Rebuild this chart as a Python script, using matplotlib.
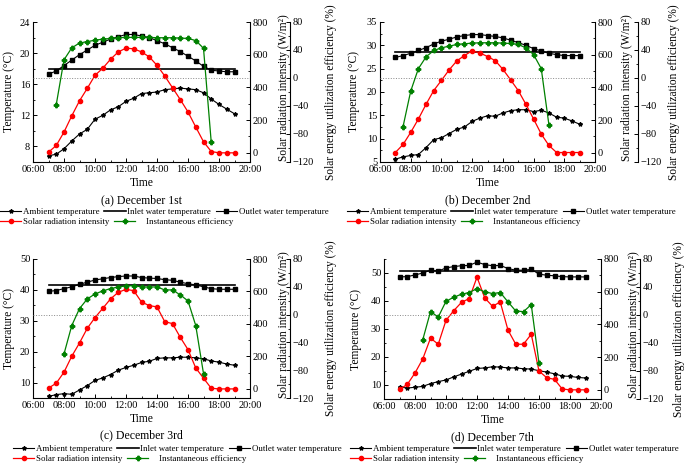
import matplotlib
matplotlib.use('Agg')
import matplotlib.pyplot as plt
from matplotlib.ticker import MultipleLocator, FixedLocator

plt.rcParams['font.family'] = ['Liberation Serif', 'DejaVu Serif']
plt.rcParams['font.size'] = 7.5
plt.rcParams['xtick.direction'] = 'in'
plt.rcParams['ytick.direction'] = 'in'
plt.rcParams['axes.linewidth'] = 0.8

# sampling times (every 30 min)
times = ['07:00', '07:30', '08:00', '08:30', '09:00', '09:30', '10:00', '10:30',
         '11:00', '11:30', '12:00', '12:30', '13:00', '13:30', '14:00', '14:30',
         '15:00', '15:30', '16:00', '16:30', '17:00', '17:30', '18:00', '18:30', '19:00']
xtick_labels = ['06:00', '08:00', '10:00', '12:00', '14:00', '16:00', '18:00', '20:00']

# (a) December 1st
amb_a = [6.8, 7.0, 7.7, 8.7, 9.6, 10.2, 11.5, 12.0, 12.7, 13.1, 13.8, 14.2, 14.8,
         14.9, 15.0, 15.3, 15.4, 15.5, 15.4, 15.3, 14.9, 14.1, 13.4, 12.8, 12.2]
out_a = [17.3, 17.7, 18.4, 19.1, 19.8, 20.4, 21.0, 21.4, 21.8, 22.1, 22.4, 22.4, 22.2,
         22.0, 21.6, 21.2, 20.7, 20.2, 19.6, 19.0, 18.3, 17.8, 17.7, 17.6, 17.6]
inlet_a = 17.9
sol_a = [4, 45, 127, 226, 318, 394, 474, 517, 572, 617, 640, 636, 617,
         587, 535, 470, 398, 326, 250, 158, 68, 8, 0, 0, 0]
eff_start_a = '07:30'
eff_a = [-38, 26, 43, 50, 52, 54, 55.5, 56.5, 57.5, 58, 58, 58, 58, 57.5, 57.5,
         57.5, 57, 56.5, 53.5, 42.5, -92]

# (b) December 2nd
amb_b = [5.6, 6.1, 6.4, 6.6, 8.1, 9.8, 10.2, 11.1, 12.0, 12.5, 13.7, 14.4, 14.9,
         14.8, 15.5, 16.0, 16.2, 16.2, 15.8, 16.1, 15.5, 14.6, 14.4, 13.8, 13.1]
out_b = [27.4, 27.8, 28.3, 28.9, 29.5, 30.3, 30.9, 31.3, 31.8, 32.1, 32.3, 32.3, 32.1,
         31.9, 31.6, 31.1, 30.6, 30.0, 29.3, 28.8, 28.3, 28.0, 27.8, 27.8, 27.8]
inlet_b = 28.5
sol_b = [2, 51, 125, 207, 297, 381, 443, 507, 562, 595, 624, 611, 589,
         564, 511, 447, 381, 297, 207, 115, 45, 2, 2, 2, 2]
eff_start_b = '07:30'
eff_b = [-69.5, -18.7, 13.4, 30.2, 39.3, 43.1, 45.5, 47.9, 48.9, 49.8, 50.3, 50.3,
         50.3, 49.8, 49.3, 47.9, 43.1, 33.5, 13.4, -67]

# (c) December 3rd
amb_c = [5.5, 6.1, 6.4, 6.2, 7.6, 9.0, 10.7, 11.5, 12.6, 14.0, 14.9, 15.6, 16.5,
         16.9, 17.8, 18.0, 18.0, 18.2, 18.2, 18.0, 17.7, 17.0, 16.6, 16.0, 15.6]
out_c = [39.5, 39.8, 40.4, 41.0, 41.8, 42.5, 43.2, 43.6, 44.0, 44.3, 44.5, 44.5, 44.0,
         43.8, 43.7, 43.3, 43.1, 42.5, 42.0, 41.6, 41.0, 40.4, 40.2, 40.2, 40.2]
inlet_c = 41.5
sol_c = [5, 35, 103, 201, 283, 373, 439, 496, 554, 595, 613, 605, 535,
         513, 505, 414, 402, 318, 242, 129, 66, 4, 0, 0, 0]
eff_start_c = '08:00'
eff_c = [-56.6, -15.8, 8.6, 22.5, 29.7, 34.1, 37.4, 39.8, 41.2, 41.7, 39.8, 39.8,
         39.8, 35.5, 35.5, 28.3, 19.7, -15.8, -84.9]

# (d) December 7th
amb_d = [9.3, 8.9, 9.2, 9.5, 10.5, 11.2, 11.8, 12.9, 13.9, 14.9, 15.9, 16.1, 16.5,
         16.4, 16.1, 16.1, 15.8, 15.7, 15.1, 14.6, 14.0, 13.2, 13.1, 12.7, 12.5]
out_d = [48.6, 48.7, 49.3, 50.0, 51.0, 50.7, 51.8, 52.3, 52.6, 52.7, 53.9, 53.0, 52.6,
         52.7, 51.6, 51.0, 51.0, 51.3, 49.6, 49.2, 49.0, 48.7, 48.6, 48.6, 48.6]
inlet_d = 50.7
sol_d = [3, 33, 103, 189, 316, 279, 425, 484, 535, 558, 689, 562, 511,
         537, 365, 279, 279, 340, 115, 74, 64, 5, 0, 0, 0]
eff_start_d = '08:30'
eff_d = [-35.4, 4.8, -2.9, 19.6, 25.4, 29.7, 32.1, 37.8, 33.1, 30.7, 32.1, 18.7,
         5.7, 4.8, 14.8, -68.5]

W, H = 685, 466
fig = plt.figure(figsize=(W / 100, H / 100), dpi=100)


def to_hour(s):
    h, m = s.split(':')
    return int(h) + int(m) / 60.0


hours = [to_hour(t) for t in times]
RED = '#FF0000'
GREEN = '#008000'


def panel(box, spine_px, lab_px, amb, out, inlet, sol, eff_start, eff, tlim, tticks,
          caption, leg_x, leg_y):
    l, t, r, b = box
    ax = fig.add_axes([l / W, 1 - b / H, (r - l) / W, (b - t) / H])
    ax2 = ax.twinx()
    ax3 = ax.twinx()

    i0 = times.index(eff_start)
    eff_hours = hours[i0:i0 + len(eff)]

    h_amb, = ax.plot(hours, amb, color='black', lw=0.8, marker='*', ms=3,
                     label='Ambient temperature')
    h_in, = ax.plot([hours[0], hours[-1]], [inlet, inlet], color='black', lw=1.2,
                    label='Inlet water temperature')
    h_out, = ax.plot(hours, out, color='black', lw=0.8, marker='s', ms=2.4,
                     label='Outlet water temperature')
    h_sol, = ax2.plot(hours, sol, color=RED, lw=0.9, marker='o', ms=3,
                      label='Solar radiation intensity')
    ax3.axhline(0, color='#888888', lw=0.7, ls=':')
    h_eff, = ax3.plot(eff_hours, eff, color=GREEN, lw=0.9, marker='P', ms=3.2,
                      label='    Instantaneous efficiency')

    ax.set_xlim(6, 20)
    ax.xaxis.set_major_locator(FixedLocator([6, 8, 10, 12, 14, 16, 18, 20]))
    ax.set_xticklabels(xtick_labels)
    ax.xaxis.set_minor_locator(MultipleLocator(1))
    ax.set_ylim(*tlim)
    ax.set_yticks(tticks)
    ax.yaxis.set_minor_locator(MultipleLocator((tticks[1] - tticks[0]) / 2))

    ax2.set_ylim(-56, 800)
    ax2.set_yticks([0, 200, 400, 600, 800])
    ax2.yaxis.set_minor_locator(MultipleLocator(100))
    ax3.set_ylim(-120, 80)
    ax3.set_yticks([-120, -80, -40, 0, 40, 80])
    ax3.yaxis.set_minor_locator(MultipleLocator(20))
    ax3.spines['right'].set_position(('outward', (spine_px - r) * 0.72))

    for a in (ax, ax2, ax3):
        a.spines['top'].set_visible(False)
        a.tick_params(which='major', length=3, width=0.7, pad=2, labelsize=7.5)
        a.tick_params(which='minor', length=1.6, width=0.6)
    ax.spines['right'].set_visible(False)
    for a in (ax2, ax3):
        a.spines['left'].set_visible(False)
        a.spines['bottom'].set_visible(False)

    wd = float(r - l)
    ax.set_xlabel('Time', fontsize=8.3, labelpad=2)
    ax.set_ylabel('Temperature (°C)', fontsize=8.3)
    ax.yaxis.set_label_coords((lab_px[0] - l) / wd, 0.5)
    ax2.set_ylabel('Solar radiation intensity (W/m²)', fontsize=8.3)
    ax2.yaxis.set_label_coords((lab_px[1] - l) / wd, 0.53)
    ax3.set_ylabel('Solar energy utilization efficiency (%)', fontsize=8.3)
    ax3.yaxis.set_label_coords((lab_px[2] - l) / wd, 0.5)

    ax.text(0.5, -0.27, caption, transform=ax.transAxes, ha='center', va='center',
            fontsize=8.5)

    fig.legend(handles=[h_amb, h_in, h_out], loc='center left',
               bbox_to_anchor=(leg_x / W, 1 - leg_y / H), ncol=3,
               frameon=False, fontsize=6.4, handlelength=2.4,
               handletextpad=0.2, columnspacing=0.5, borderpad=0,
               borderaxespad=0)
    fig.legend(handles=[h_sol, h_eff], loc='center left',
               bbox_to_anchor=(leg_x / W, 1 - (leg_y + 10.5) / H), ncol=2,
               frameon=False, fontsize=6.4, handlelength=2.4,
               handletextpad=0.2, columnspacing=0.5, borderpad=0,
               borderaxespad=0)


panel((33, 22, 250, 162), 290, (15, 278, 325), amb_a, out_a, inlet_a, sol_a,
      eff_start_a, eff_a, (6, 24), [8, 12, 16, 20, 24], '(a) December 1st', 0, 211.5)
panel((380, 22, 595, 162), 638, (360, 621, 668), amb_b, out_b, inlet_b, sol_b,
      eff_start_b, eff_b, (5, 35), [5, 10, 15, 20, 25, 30, 35], '(b) December 2nd',
      347, 211.5)
panel((33, 259, 250, 398), 290, (15, 278, 325), amb_c, out_c, inlet_c, sol_c,
      eff_start_c, eff_c, (5, 50), [10, 20, 30, 40, 50], '(c) December 3rd', 13, 448.5)
panel((384, 259, 601, 399), 640, (362, 628, 673), amb_d, out_d, inlet_d, sol_d,
      eff_start_d, eff_d, (5, 55), [10, 20, 30, 40, 50], '(d) December 7th', 350, 448.5)

fig.savefig('out.png', dpi=100)
